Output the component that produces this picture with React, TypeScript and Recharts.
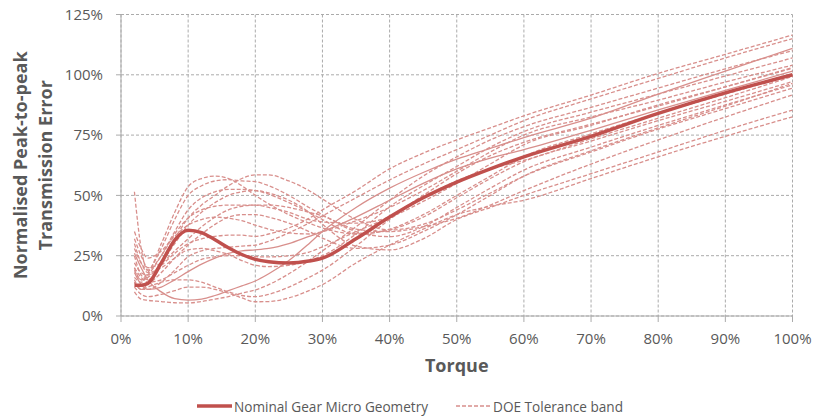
import React from 'react';
import { LineChart, Line, XAxis, YAxis, CartesianGrid, Legend } from 'recharts';

const FONT = "'Open Sans', sans-serif";

// Torque (% of max)
const torque = [2, 3, 4, 6, 8, 10, 12, 14, 16, 18, 20, 22, 25, 28, 30, 35, 40, 45, 50, 55, 60, 70, 80, 90, 100];

// Nominal gear micro geometry
const nominal = [12.8, 12.8, 13.5, 22, 31.5, 35.6, 34.6, 31.6, 28.3, 25.5, 23.5, 22.5, 22, 22.8, 24, 32, 41, 49, 55.5, 61, 66, 74.5, 84, 92.5, 100];

// DOE tolerance band curves
const doe01 = [22, 18, 17, 21, 26, 30, 32, 33, 33.5, 33.5, 33, 34, 36.5, 40.5, 44, 52, 61, 67.5, 73, 78, 83, 91.6, 100.6, 108.5, 116.5];
const doe02 = [15, 11, 11, 14, 19, 24.6, 27, 28, 28.5, 29, 29.4, 31, 34.5, 38.5, 41.5, 49, 56.4, 63, 69, 75, 81, 90, 98.5, 107, 115];
const doe03 = [26, 20, 15, 10, 7.2, 6.6, 7, 8.5, 10.5, 12.5, 14.5, 17.5, 23, 30, 35, 45, 53, 59.5, 65, 69.5, 74, 82, 92, 101.5, 111];
const doe04 = [10, 7, 6.5, 6, 5.5, 5.4, 6, 7, 8, 9.5, 10.8, 13, 17.5, 23, 27, 37, 48, 58, 66, 73, 78.5, 86.5, 94.5, 102.5, 110];
const doe05 = [30, 22, 18, 20, 24, 27.4, 28, 27, 25.5, 23, 21, 20.5, 21, 23, 25, 34, 45.3, 54, 62, 70, 76.5, 84.5, 92, 99.5, 107];
const doe06 = [35, 28, 24, 27, 33, 37.7, 40, 41, 40.5, 39.5, 37.7, 36, 34.5, 34, 35, 39.5, 45, 52, 60, 68, 75, 82.5, 89.5, 97, 104];
const doe07 = [28, 22, 19, 25, 34, 40.6, 44, 45.5, 46, 46, 46, 45, 43, 40, 39, 38.5, 41, 47.5, 55, 63, 71, 79, 87.5, 95, 102.7];
const doe08 = [14, 11, 12, 14, 15, 15, 14, 12, 10, 8.5, 8, 9, 12, 16, 19, 29, 40, 49, 56, 61, 64.5, 73.5, 82, 90.5, 99.3];
const doe09 = [18, 13, 11, 12, 15, 18.4, 21.5, 24, 26, 27, 27.4, 28, 30, 33, 35, 41, 48, 55, 61, 65.5, 69, 77, 85.5, 93.5, 101.5];
const doe10 = [16, 14, 17, 25, 35, 44, 49, 51.5, 52.5, 52.5, 52, 50.5, 47, 43, 40, 34, 35.7, 41, 49, 57, 64, 72.5, 81, 89, 97.2];
const doe11 = [20, 15, 18, 28, 40, 50, 54, 56, 56.5, 56, 55.7, 54, 50, 45, 42, 35, 32.9, 37, 45, 53, 60.5, 70, 79, 87.5, 95.8];
const doe12 = [25, 17, 15, 22, 32, 40.6, 46, 50, 54, 57, 58.5, 58.5, 56, 52, 48.5, 40, 35.7, 38, 44, 51, 58, 68, 77.5, 86, 94.5];
const doe13 = [32, 25, 20, 22, 27, 32, 37, 41, 44, 45.5, 46, 46, 45, 43, 41.5, 36, 35, 37, 40.5, 46, 52, 63, 73, 82.5, 91.7];
const doe14 = [19, 15, 16, 22, 30, 37.7, 43, 47, 50, 51.5, 52, 51, 48, 43, 38, 29, 27.4, 32, 40, 45, 50, 59, 68, 77, 85.4];
const doe15 = [12, 9, 8, 9, 10.5, 12, 12, 11, 9.5, 7.5, 5.9, 6, 7.5, 10.5, 13, 22, 29.4, 36, 42, 45.5, 48, 57, 66, 74.5, 82.6];
const doe16 = [51.5, 28, 19, 30, 43, 53.6, 57, 58, 57, 54, 50, 46.5, 42, 38.5, 36.5, 34, 36, 42, 50, 58, 66, 75.5, 84, 92, 100];
const doe17 = [14, 11, 13, 18, 24, 29.4, 34, 38, 41, 42, 42, 41, 38.5, 35, 32.3, 28, 29.4, 35, 42, 50, 58, 68.5, 78, 87, 96.5];
const doe18 = [20, 16, 14, 15, 18, 21, 23.5, 24.5, 25, 25, 24.6, 24.5, 25, 26.5, 28.7, 35, 41.2, 50, 59, 66.5, 72, 79.5, 87, 95, 103];

const xTicks = [0, 10, 20, 30, 40, 50, 60, 70, 80, 90, 100];
const yTicks = [0, 25, 50, 75, 100, 125];

const NOMINAL_NAME = 'Nominal Gear Micro Geometry';
const DOE_NAME = 'DOE Tolerance band';
const legendOrder = [NOMINAL_NAME, DOE_NAME];

const doeSeries = [
  { key: 'doe01', values: doe01, solid: false },
  { key: 'doe02', values: doe02, solid: false },
  { key: 'doe03', values: doe03, solid: true },
  { key: 'doe04', values: doe04, solid: false },
  { key: 'doe05', values: doe05, solid: false },
  { key: 'doe06', values: doe06, solid: false },
  { key: 'doe07', values: doe07, solid: false },
  { key: 'doe08', values: doe08, solid: false },
  { key: 'doe09', values: doe09, solid: true },
  { key: 'doe10', values: doe10, solid: false },
  { key: 'doe11', values: doe11, solid: false },
  { key: 'doe12', values: doe12, solid: false },
  { key: 'doe13', values: doe13, solid: false },
  { key: 'doe14', values: doe14, solid: false },
  { key: 'doe15', values: doe15, solid: false },
  { key: 'doe16', values: doe16, solid: false },
  { key: 'doe17', values: doe17, solid: false },
  { key: 'doe18', values: doe18, solid: false },
];

const data = torque.map((x, i) => {
  const row: Record<string, number> = { x, nominal: nominal[i] };
  doeSeries.forEach((s) => {
    row[s.key] = s.values[i];
  });
  return row;
});

const NOM_COLOR = '#C0504D';
const DOE_COLOR = '#D88F8C';
const GRID_COLOR = '#ABABAB';
const TEXT_COLOR = '#595959';

const pct = (v: number) => `${v}%`;

const YTitle = (props: any) => {
  const vb = props.viewBox || { x: 61, y: 14, width: 60, height: 302 };
  const cy = vb.y + vb.height / 2;
  const x1 = vb.x - 34.5;
  const x2 = vb.x - 8.7;
  const style = { fontFamily: FONT, fontSize: 18, fontWeight: 700, fill: TEXT_COLOR } as any;
  return (
    <g>
      <text x={x1} y={cy} textAnchor="middle" transform={`rotate(-90, ${x1}, ${cy})`} style={style}>
        Normalised Peak-to-peak
      </text>
      <text x={x2} y={cy} textAnchor="middle" transform={`rotate(-90, ${x2}, ${cy})`} style={style}>
        Transmission Error
      </text>
    </g>
  );
};

const renderLegend = (props: any) => {
  const seen: Record<string, boolean> = {};
  const payload = (props.payload || [])
    .filter((e: any) => {
      if (e.type === 'none' || seen[e.value]) return false;
      seen[e.value] = true;
      return true;
    })
    .sort((a: any, b: any) => legendOrder.indexOf(a.value) - legendOrder.indexOf(b.value));
  return (
    <div
      style={{
        display: 'flex',
        justifyContent: 'center',
        alignItems: 'center',
        height: 20,
        fontFamily: FONT,
        fontSize: 13.6,
        color: TEXT_COLOR,
      }}
    >
      {payload.map((e: any, i: number) => (
        <div key={i} style={{ display: 'flex', alignItems: 'center', marginRight: i === 0 ? 28 : 0 }}>
          <svg width={35} height={10} style={{ display: 'block' }}>
            <line
              x1={0}
              y1={5}
              x2={35}
              y2={5}
              stroke={e.value === NOMINAL_NAME ? NOM_COLOR : DOE_COLOR}
              strokeWidth={e.value === NOMINAL_NAME ? 3.5 : 1.3}
              strokeDasharray={e.value === NOMINAL_NAME ? undefined : '4 2'}
            />
          </svg>
          <span style={{ marginLeft: 2, whiteSpace: 'nowrap' }}>{e.value}</span>
        </div>
      ))}
    </div>
  );
};

export default function App() {
  return (
    <div style={{ position: 'absolute', left: 0, top: 0 }}>
      <LineChart
        width={815}
        height={416}
        data={data}
        margin={{ top: 14.5, right: 22.5, bottom: 0, left: 61 }}
        style={{ fontFamily: FONT }}
      >
        <CartesianGrid stroke={GRID_COLOR} strokeDasharray="3 2" />
        <XAxis
          dataKey="x"
          type="number"
          domain={[0, 100]}
          ticks={xTicks}
          tickFormatter={pct}
          height={80}
          tickSize={6}
          tickMargin={11}
          axisLine={{ stroke: GRID_COLOR }}
          tickLine={{ stroke: GRID_COLOR }}
          tick={{ fill: TEXT_COLOR, fontSize: 15, fontFamily: FONT }}
          label={{
            value: 'Torque',
            position: 'insideTop',
            offset: 43,
            style: { fontFamily: FONT, fontSize: 18, fontWeight: 700, fill: TEXT_COLOR },
          }}
        />
        <YAxis
          type="number"
          domain={[0, 125]}
          ticks={yTicks}
          tickFormatter={pct}
          width={60}
          tickSize={5}
          tickMargin={13}
          axisLine={{ stroke: GRID_COLOR }}
          tickLine={{ stroke: GRID_COLOR }}
          tick={{ fill: TEXT_COLOR, fontSize: 15, fontFamily: FONT }}
          label={<YTitle />}
        />
        <Legend
          verticalAlign="bottom"
          align="center"
          content={renderLegend}
          wrapperStyle={{ left: 0, width: 820 }}
        />
        {doeSeries.map((s, i) => (
          <Line
            key={s.key}
            dataKey={s.key}
            name={DOE_NAME}
            type="monotone"
            stroke={DOE_COLOR}
            strokeWidth={1.3}
            strokeDasharray={s.solid ? undefined : '4 2'}
            dot={false}
            activeDot={false}
            legendType={i === 0 ? 'line' : 'none'}
            isAnimationActive={false}
          />
        ))}
        <Line
          dataKey="nominal"
          name={NOMINAL_NAME}
          type="monotone"
          stroke={NOM_COLOR}
          strokeWidth={3.5}
          dot={false}
          activeDot={false}
          legendType="line"
          isAnimationActive={false}
        />
      </LineChart>
    </div>
  );
}
